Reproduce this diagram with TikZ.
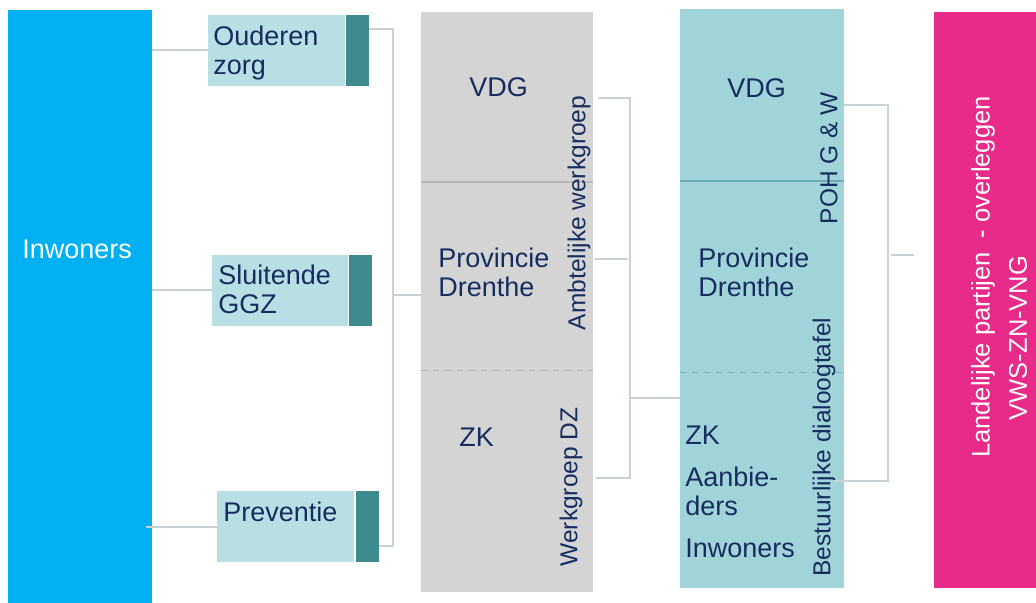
\documentclass[tikz,border=0pt]{standalone}
\usepackage{fontspec}
\setmainfont{Liberation Sans}
\usetikzlibrary{positioning}
\definecolor{inwonersColor}{RGB}{0,176,240}
\definecolor{zorgLight}{RGB}{184,223,227}
\definecolor{zorgDark}{RGB}{62,139,143}
\definecolor{grayBlockColor}{RGB}{212,212,212}
\definecolor{tealBlockColor}{RGB}{161,212,217}
\definecolor{landelijkColor}{RGB}{232,43,137}
\definecolor{textColor}{RGB}{22,45,95}
\definecolor{connColor}{RGB}{200,209,213}
\tikzstyle{diagram} = [x = .5pt, y = -.5pt]
\tikzstyle{blockStyle} = [draw=none, inner sep=0, outer sep=0, anchor=north west]
\tikzstyle{connLine} = [color=connColor, line width=1pt]
\tikzstyle{graySolid} = [color=black!28, line width=.6pt]
\tikzstyle{grayDashed} = [color=black!30, line width=.5pt, dashed]
\tikzstyle{tealSolid} = [color=zorgDark!55!tealBlockColor, line width=.6pt]
\tikzstyle{tealDashed} = [color=zorgDark!45!tealBlockColor, line width=.5pt, dashed]
\tikzstyle{labelText} = [font=\fontsize{13.5}{14.5}\selectfont, text=textColor, inner sep=0, align=left]
\tikzstyle{sideText} = [font=\fontsize{12.25}{14}\selectfont, text=textColor, rotate=90, inner sep=0]
\tikzstyle{whiteSideText} = [font=\fontsize{12.75}{14}\selectfont, text=white, rotate=90, inner sep=0]
\newcommand{\px}[1]{#1*.5pt}
\newcommand{\colorBlock}[6]{\node [blockStyle, fill=#2, minimum width=\px{#5}, minimum height=\px{#6}] (#1) at (#3,#4) {};}
\newcommand{\zorgBlock}[5]{
  \colorBlock{#1}{zorgLight}{#2}{#3}{#4}{71}
  \colorBlock{#1Strip}{zorgDark}{#5}{#3}{23}{71}
}

\begin{document}
\begin{tikzpicture}[diagram]
  \useasboundingbox (0,0) rectangle (1036,603);
  \colorBlock{inwonersBlok}{inwonersColor}{8}{10}{144}{593}
  \node [labelText, text=white, anchor=base west] (inwonersText) at (22,259) {Inwoners};

  \zorgBlock{ouderen}{208}{15}{137}{346}
  \zorgBlock{sluitende}{212}{255}{136}{349}
  \zorgBlock{preventie}{217}{491}{137}{356}
  \node [labelText, anchor=north west] (ouderenText) at (213,26) {Ouderen\\zorg};
  \node [labelText, anchor=north west] (sluitendeText) at (218,265) {Sluitende\\GGZ};
  \node [labelText, anchor=base west] (preventieText) at (223,521) {Preventie};

  \colorBlock{grayBlok}{grayBlockColor}{421}{12}{172}{580}
  \draw [graySolid] (421,182) -- (593,182);
  \draw [grayDashed] (421,370) -- (593,370);
  \node [labelText, anchor=base west] (grayVdg) at (469,97) {VDG};
  \node [labelText, anchor=north west] (grayProvincie) at (438,248) {Provincie\\Drenthe};
  \node [labelText, anchor=base west] (grayZk) at (459,446) {ZK};
  \node [sideText] (ambtelijkText) at (579,213) {Ambtelijke werkgroep};
  \node [sideText] (werkgroepText) at (571,487) {Werkgroep DZ};

  \colorBlock{tealBlok}{tealBlockColor}{680}{9}{164}{579}
  \draw [tealSolid] (680,181) -- (844,181);
  \draw [tealDashed] (680,372) -- (844,372);
  \node [labelText, anchor=base west] (tealVdg) at (727,98) {VDG};
  \node [labelText, anchor=north west] (tealProvincie) at (698,248) {Provincie\\Drenthe};
  \node [labelText, anchor=base west] (tealZk) at (685,444) {ZK};
  \node [labelText, anchor=north west] (tealAanbieders) at (685,467) {Aanbie-\\ders};
  \node [labelText, anchor=base west] (tealInwoners) at (685,557) {Inwoners};
  \node [sideText] (pohText) at (829,158) {POH G \& W};
  \node [sideText] (bestuurlijkText) at (824,447) {Bestuurlijke dialoogtafel};

  \colorBlock{landelijkBlok}{landelijkColor}{934}{12}{102}{576}
  \node [whiteSideText] (landelijkText) at (983,277) {Landelijke partijen \ - overleggen};
  \node [whiteSideText] (vwsText) at (1018,338) {VWS-ZN-VNG};

  \coordinate (bracketOneTop) at (393,29);
  \coordinate (bracketOneBottom) at (393,546);
  \coordinate (bracketOneOut) at (393,295);
  \coordinate (bracketTwoTop) at (630,98);
  \coordinate (bracketTwoMid) at (628,259);
  \coordinate (bracketTwoBottom) at (630,478);
  \coordinate (bracketTwoOut) at (630,398);
  \coordinate (bracketThreeTop) at (888,105);
  \coordinate (bracketThreeBottom) at (888,481);
  \coordinate (bracketThreeOut) at (891,255);

  \draw [connLine] (inwonersBlok.east |- ouderen.west) -- (ouderen.west);
  \draw [connLine] (inwonersBlok.east |- sluitende.west) -- (sluitende.west);
  \draw [connLine] ([xshift=-3pt]inwonersBlok.east |- preventie.west) -- (preventie.west);

  \draw [connLine] (ouderenStrip.east |- bracketOneTop) -- (bracketOneTop) -- (bracketOneBottom) -- (preventieStrip.east |- bracketOneBottom);
  \draw [connLine] (bracketOneOut) -- (grayBlok.west |- bracketOneOut);

  \draw [connLine] ([xshift=2.5pt]grayBlok.east |- bracketTwoTop) -- (bracketTwoTop) -- (bracketTwoBottom) -- ([xshift=1.5pt]grayBlok.east |- bracketTwoBottom);
  \draw [connLine] ([xshift=1pt]grayBlok.east |- bracketTwoMid) -- (bracketTwoMid);
  \draw [connLine] (bracketTwoOut) -- (tealBlok.west |- bracketTwoOut);

  \draw [connLine] (tealBlok.east |- bracketThreeTop) -- (bracketThreeTop) -- (bracketThreeBottom) -- ([xshift=-5.5pt]tealBlok.east |- bracketThreeBottom);
  \draw [connLine] (bracketThreeOut) -- ([xshift=-10pt]landelijkBlok.west |- bracketThreeOut);
\end{tikzpicture}
\end{document}
